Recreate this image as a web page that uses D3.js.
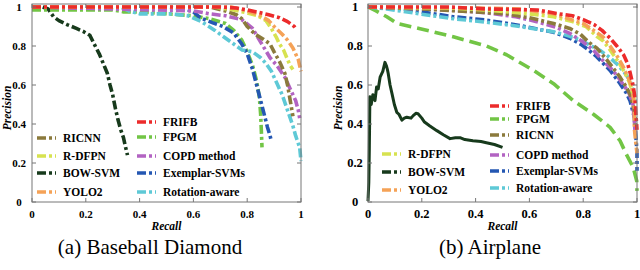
<!DOCTYPE html>
<html>
<head>
<meta charset="utf-8">
<script src="https://cdn.jsdelivr.net/npm/d3@7"></script>
<style>
  body { margin: 0; background: #fff; }
  svg text { font-family: "Liberation Serif", "Times New Roman", serif; }
</style>
</head>
<body>
<svg id="chart" width="640" height="270"></svg>
<script>
// methods and colours
var methods = ["FRIFB", "FPGM", "RICNN", "COPD method", "Exemplar-SVMs", "Rotation-aware", "R-DFPN", "BOW-SVM", "YOLO2"];
var colors = ["#ec2b2b", "#72c545", "#8b7a3c", "#b263c2", "#2457b2", "#5ec9d6", "#d7e250", "#173a1c", "#f5a257"];
var ticks = [0, 0.2, 0.4, 0.6, 0.8, 1];
var tickLabels = ["0", "0.2", "0.4", "0.6", "0.8", "1"];

// (a) Baseball Diamond  [recall, precision]
var bdFRIFB = [[0,1],[0.7,1],[0.76,0.995],[0.8,0.985],[0.85,0.97],[0.88,0.96],[0.92,0.945],[0.95,0.925],[0.975,0.9],[0.98,0.89]];
var bdFPGM = [[0,0.985],[0.3,0.985],[0.34,0.975],[0.4,0.975],[0.5,0.965],[0.6,0.955],[0.66,0.94],[0.72,0.915],[0.75,0.88],[0.78,0.83],[0.8,0.77],[0.82,0.7],[0.835,0.62],[0.845,0.54],[0.85,0.45],[0.853,0.35],[0.855,0.28]];
var bdRICNN = [[0,1],[0.66,1],[0.72,0.98],[0.76,0.96],[0.78,0.94],[0.8,0.9],[0.83,0.86],[0.86,0.835],[0.885,0.81],[0.9,0.77],[0.92,0.72],[0.94,0.66],[0.95,0.6],[0.96,0.52],[0.965,0.48],[0.97,0.44]];
var bdCOPD = [[0,1],[0.6,0.98],[0.66,0.965],[0.72,0.955],[0.78,0.935],[0.82,0.89],[0.85,0.82],[0.885,0.74],[0.91,0.7],[0.94,0.64],[0.96,0.58],[0.98,0.52],[0.99,0.47],[0.995,0.43]];
var bdExemplar = [[0,1],[0.5,1],[0.57,0.99],[0.6,0.975],[0.625,0.945],[0.67,0.92],[0.71,0.9],[0.75,0.866],[0.78,0.81],[0.8,0.76],[0.82,0.68],[0.835,0.6],[0.85,0.52],[0.865,0.44],[0.875,0.385],[0.885,0.34],[0.89,0.31]];
var bdRotation = [[0,1],[0.33,1],[0.36,0.98],[0.4,0.965],[0.52,0.965],[0.58,0.955],[0.63,0.925],[0.68,0.88],[0.72,0.84],[0.75,0.81],[0.78,0.78],[0.82,0.77],[0.85,0.74],[0.87,0.71],[0.89,0.67],[0.91,0.61],[0.93,0.55],[0.95,0.47],[0.97,0.39],[0.98,0.34],[0.995,0.28],[1,0.21]];
var bdRDFPN = [[0,1],[0.68,1],[0.75,0.985],[0.8,0.97],[0.84,0.955],[0.87,0.93],[0.89,0.89],[0.91,0.84],[0.92,0.81],[0.935,0.78],[0.95,0.73],[0.96,0.7],[0.97,0.68]];
var bdBOW = [[0.04,1],[0.06,0.99],[0.08,0.95],[0.1,0.93],[0.13,0.91],[0.165,0.89],[0.19,0.875],[0.215,0.855],[0.235,0.8],[0.25,0.76],[0.265,0.71],[0.28,0.66],[0.29,0.6],[0.3,0.55],[0.31,0.48],[0.32,0.42],[0.33,0.37],[0.34,0.33],[0.348,0.28],[0.355,0.24]];
var bdYOLO2 = [[0,1],[0.74,1],[0.8,0.98],[0.85,0.955],[0.88,0.93],[0.9,0.9],[0.93,0.86],[0.95,0.83],[0.97,0.79],[0.99,0.73],[1,0.67]];

// (b) Airplane
var apFRIFB = [[0,1],[0.3,1],[0.44,0.99],[0.63,0.985],[0.71,0.965],[0.76,0.955],[0.8,0.935],[0.84,0.91],[0.87,0.88],[0.9,0.84],[0.925,0.8],[0.95,0.755],[0.965,0.71],[0.975,0.66],[0.985,0.6],[0.992,0.54],[0.996,0.45],[1,0.37]];
var apFPGM = [[0,1],[0.03,0.98],[0.07,0.95],[0.107,0.916],[0.19,0.89],[0.317,0.847],[0.44,0.8],[0.515,0.755],[0.615,0.675],[0.69,0.607],[0.763,0.52],[0.838,0.45],[0.9,0.383],[0.937,0.314],[0.96,0.246],[0.986,0.177],[0.999,0.108],[1,0.057]];
var apRICNN = [[0,1],[0.2,0.99],[0.4,0.975],[0.515,0.965],[0.6,0.945],[0.69,0.915],[0.75,0.89],[0.79,0.86],[0.82,0.82],[0.85,0.79],[0.887,0.73],[0.91,0.69],[0.937,0.64],[0.96,0.59],[0.975,0.55],[0.99,0.47],[0.995,0.4]];
var apCOPD = [[0,1],[0.1,0.995],[0.3,0.985],[0.44,0.97],[0.55,0.95],[0.627,0.925],[0.7,0.895],[0.75,0.865],[0.8,0.82],[0.84,0.775],[0.87,0.73],[0.9,0.69],[0.93,0.64],[0.95,0.6],[0.97,0.56],[0.985,0.5],[0.99,0.42],[0.993,0.35]];
var apExemplar = [[0,1],[0.13,0.99],[0.2,0.975],[0.317,0.95],[0.44,0.933],[0.565,0.905],[0.69,0.87],[0.75,0.84],[0.79,0.81],[0.82,0.78],[0.85,0.745],[0.9,0.675],[0.937,0.607],[0.96,0.56],[0.974,0.52],[0.99,0.435],[0.995,0.35],[1,0.26],[1,0.16]];
var apRotation = [[0,1],[0.07,0.99],[0.19,0.965],[0.317,0.94],[0.44,0.922],[0.565,0.9],[0.69,0.873],[0.75,0.85],[0.79,0.83],[0.83,0.8],[0.862,0.778],[0.9,0.74],[0.924,0.71],[0.95,0.67],[0.974,0.624],[0.99,0.555],[0.995,0.5]];
var apRDFPN = [[0,1],[0.3,0.995],[0.44,0.985],[0.6,0.965],[0.69,0.95],[0.76,0.925],[0.81,0.9],[0.85,0.85],[0.875,0.825],[0.9,0.78],[0.93,0.72],[0.95,0.675],[0.97,0.62],[0.98,0.58],[0.99,0.52]];
var apBOW = [[0,0.005],[0.003,0.1],[0.005,0.28],[0.006,0.4],[0.007,0.54],[0.012,0.5],[0.018,0.55],[0.026,0.52],[0.032,0.59],[0.038,0.58],[0.045,0.64],[0.055,0.67],[0.063,0.716],[0.068,0.7],[0.072,0.68],[0.075,0.66],[0.082,0.6],[0.089,0.557],[0.098,0.5],[0.107,0.46],[0.115,0.45],[0.126,0.42],[0.135,0.43],[0.144,0.435],[0.16,0.43],[0.168,0.443],[0.178,0.455],[0.186,0.453],[0.2,0.43],[0.21,0.41],[0.23,0.39],[0.256,0.366],[0.28,0.345],[0.305,0.325],[0.325,0.33],[0.342,0.33],[0.36,0.32],[0.39,0.314],[0.42,0.31],[0.44,0.304],[0.47,0.295],[0.5,0.28]];
var apYOLO2 = [[0,1],[0.4,0.995],[0.56,0.99],[0.69,0.965],[0.8,0.915],[0.85,0.87],[0.875,0.845],[0.9,0.8],[0.93,0.74],[0.95,0.69],[0.97,0.63],[0.98,0.59],[0.99,0.5],[0.99,0.38],[0.995,0.31],[1,0.25]];

var bdSeries = [bdFRIFB, bdFPGM, bdRICNN, bdCOPD, bdExemplar, bdRotation, bdRDFPN, bdBOW, bdYOLO2];
var apSeries = [apFRIFB, apFPGM, apRICNN, apCOPD, apExemplar, apRotation, apRDFPN, apBOW, apYOLO2];

// draw order (back to front)
var drawOrder = [7, 1, 4, 5, 3, 2, 6, 8, 0];
var dashDot = "9,3,3,3";

var svg = d3.select('#chart');

function drawPanel(cfg) {
    var x = d3.scaleLinear().domain([0, 1]).range([cfg.left, cfg.right]);
    var y = d3.scaleLinear().domain([0, 1]).range([202, 7]);
    var g = svg.append('g');

    var line = d3.line()
        .x(function(d) { return x(d[0]); })
        .y(function(d) { return y(d[1]); });

    drawOrder.forEach(function(i) {
        g.append('path')
            .attr('fill', 'none')
            .attr('stroke', colors[i])
            .attr('stroke-width', cfg.width[i] || 3.6)
            .attr('stroke-linejoin', 'round')
            .attr('stroke-dasharray', cfg.dash[i] || dashDot)
            .attr('d', line(cfg.series[i]));
    });

    // frame
    g.append('rect')
        .attr('x', cfg.left).attr('y', 4)
        .attr('width', cfg.right - cfg.left).attr('height', 198)
        .attr('fill', 'none').attr('stroke', '#777').attr('stroke-width', 1);

    // inward ticks on all sides
    var tk = g.append('g').attr('stroke', '#777').attr('stroke-width', 1);
    ticks.forEach(function(t) {
        tk.append('line').attr('x1', x(t)).attr('x2', x(t)).attr('y1', 202).attr('y2', 198);
        tk.append('line').attr('x1', x(t)).attr('x2', x(t)).attr('y1', 4).attr('y2', 8);
        tk.append('line').attr('x1', cfg.left).attr('x2', cfg.left + 4).attr('y1', y(t)).attr('y2', y(t));
        tk.append('line').attr('x1', cfg.right).attr('x2', cfg.right - 4).attr('y1', y(t)).attr('y2', y(t));
    });

    ticks.forEach(function(t, k) {
        g.append('text')
            .attr('x', x(t)).attr('y', 218)
            .attr('text-anchor', 'middle')
            .attr('font-size', cfg.tickSize).attr('font-weight', 'bold')
            .text(tickLabels[k]);
        g.append('text')
            .attr('x', cfg.left - 13).attr('y', y(t)).attr('dy', '0.35em')
            .attr('text-anchor', 'middle')
            .attr('font-size', cfg.tickSize).attr('font-weight', 'bold')
            .text(tickLabels[k]);
    });

    g.append('text')
        .attr('x', x(0.5)).attr('y', 230)
        .attr('text-anchor', 'middle')
        .attr('font-size', 11.5).attr('font-weight', 'bold').attr('font-style', 'italic')
        .text('Recall');
    g.append('text')
        .attr('transform', 'translate(' + (cfg.left - cfg.titleOff) + ',108) rotate(-90)')
        .attr('text-anchor', 'middle')
        .attr('font-size', 11.5).attr('font-weight', 'bold').attr('font-style', 'italic')
        .text('Precision');

    // legend (samples always dash-dot, as in the original)
    cfg.legend.forEach(function(e) {
        var i = e[0];
        g.append('line')
            .attr('x1', e[1]).attr('x2', e[1] + 19)
            .attr('y1', e[2]).attr('y2', e[2])
            .attr('stroke', colors[i]).attr('stroke-width', 3.6)
            .attr('stroke-dasharray', dashDot);
        g.append('text')
            .attr('x', e[1] + 26).attr('y', e[2]).attr('dy', '0.35em')
            .attr('font-size', 11.5).attr('font-weight', 'bold')
            .text(methods[i]);
    });

    g.append('text')
        .attr('x', cfg.captionX).attr('y', 254)
        .attr('text-anchor', 'middle')
        .attr('font-size', 21)
        .text(cfg.caption);
}

drawPanel({
    left: 32, right: 301, series: bdSeries, tickSize: 11, titleOff: 21,
    dash: {}, width: {},
    legend: [[2, 37, 138], [6, 37, 156], [7, 37, 173], [8, 37, 192],
             [0, 137, 122], [1, 137, 137], [3, 137, 156], [4, 137, 173], [5, 137, 192]],
    caption: '(a) Baseball Diamond', captionX: 150
});

drawPanel({
    left: 368, right: 637, series: apSeries, tickSize: 12.5, titleOff: 26,
    dash: {1: "12,6", 7: "none"}, width: {7: 3},
    legend: [[6, 382, 154], [7, 382, 172], [8, 382, 190],
             [0, 490, 106], [1, 490, 119], [2, 490, 135], [3, 490, 155], [4, 490, 171], [5, 490, 188]],
    caption: '(b) Airplane', captionX: 490
});
</script>
</body>
</html>
